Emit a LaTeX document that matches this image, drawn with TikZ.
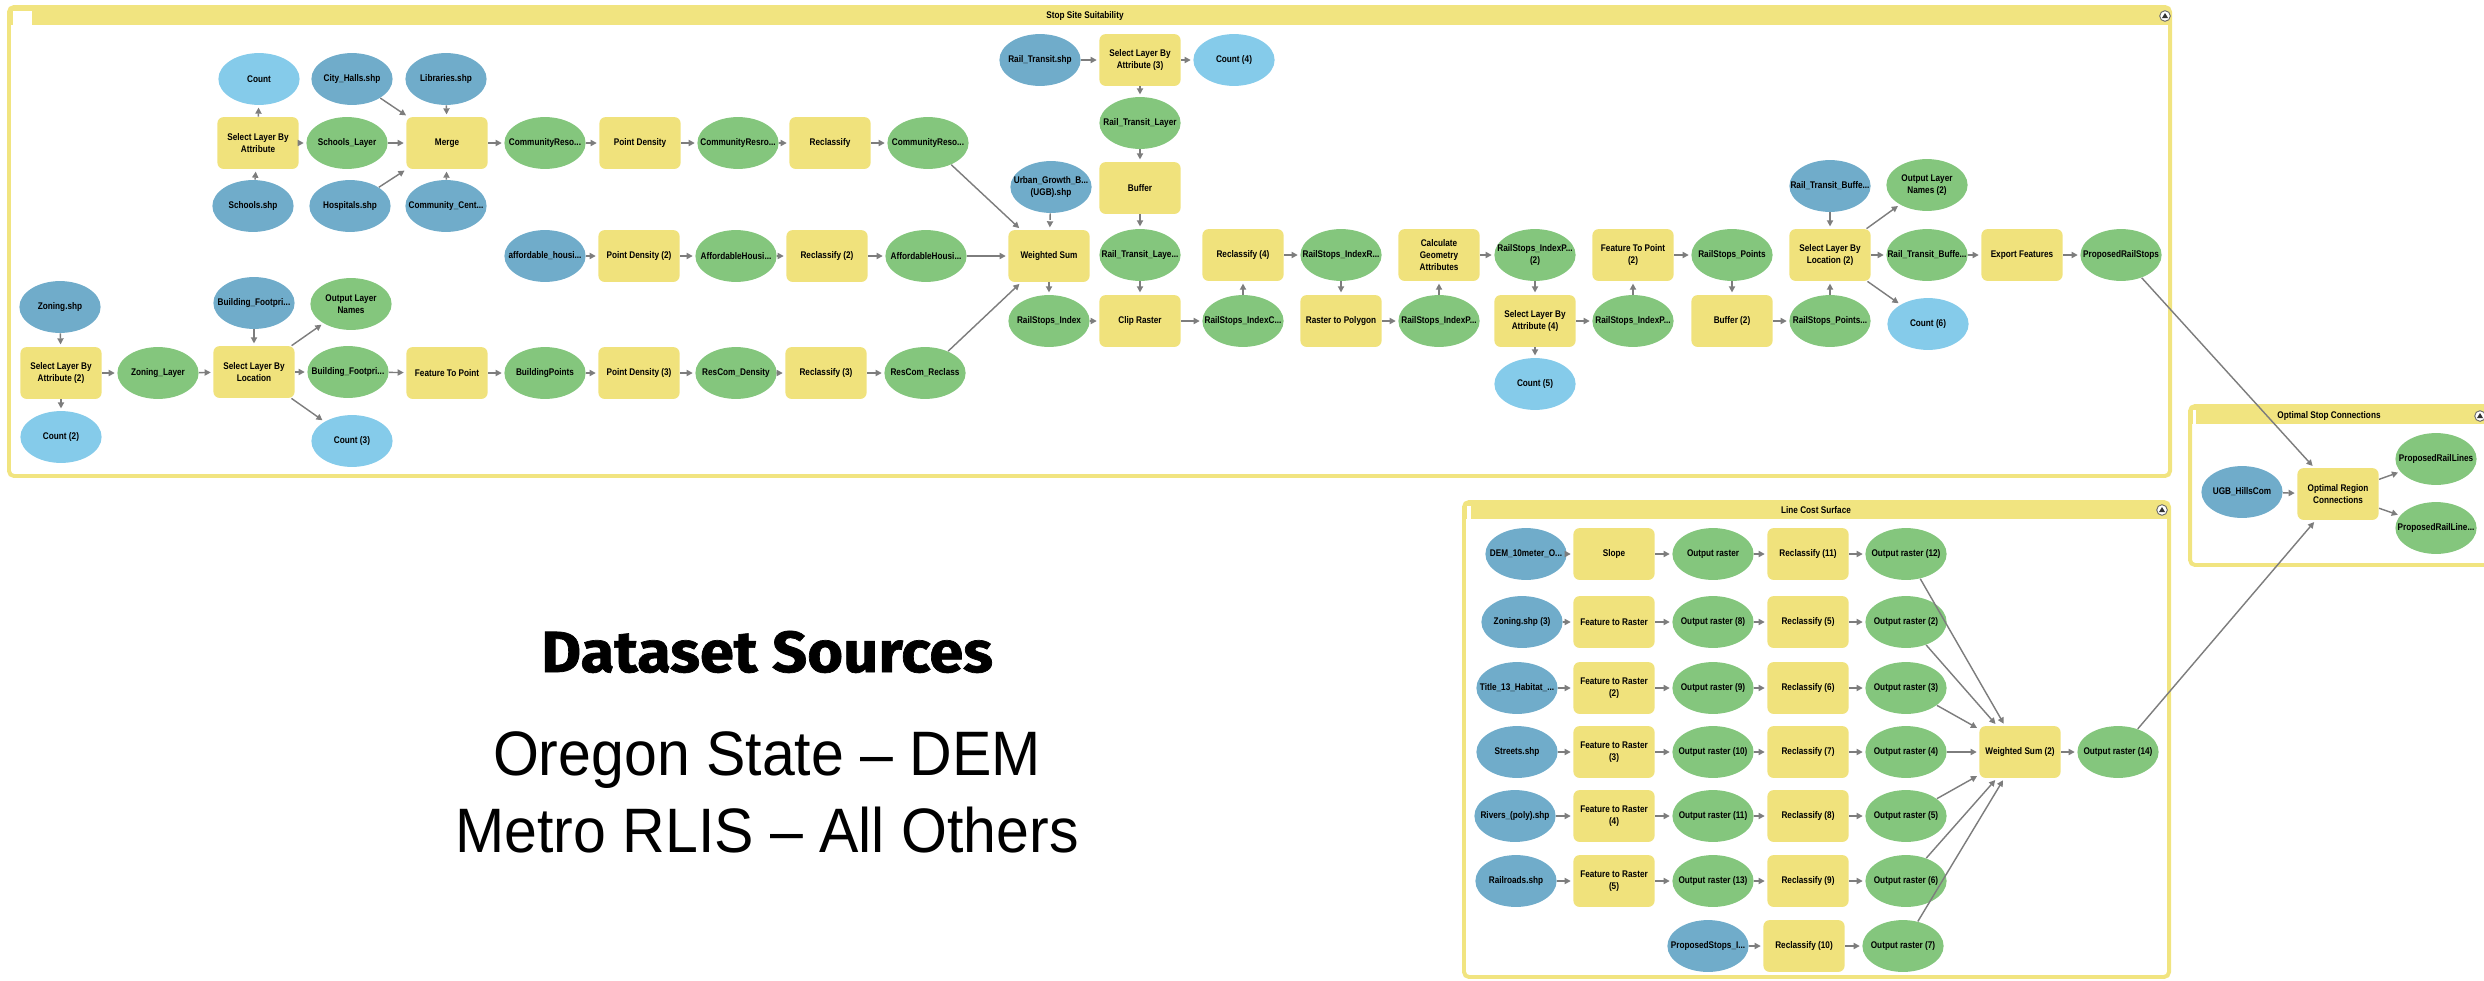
\documentclass[tikz,border=0pt]{standalone}
\usepackage{fontspec}
\setmainfont{Liberation Sans}
\newfontfamily\boxfont{Liberation Sans}[FakeStretch=0.85]
\newfontfamily\headfont{Fira Sans}[FakeStretch=1.06,FakeBold=1.2]
\newfontfamily\srcfont{Liberation Sans}[FakeStretch=0.94]
\usetikzlibrary{shapes.geometric,arrows.meta}

\definecolor{toolyellow}{RGB}{240,226,124}
\definecolor{framey}{RGB}{241,228,128}
\definecolor{datagreen}{RGB}{132,198,125}
\definecolor{inputblue}{RGB}{112,172,202}
\definecolor{countblue}{RGB}{133,203,234}
\definecolor{linkgrey}{RGB}{125,125,125}

\tikzset{
  toolbox/.style={rectangle, rounded corners=0.1cm, fill=toolyellow, minimum width=1.3cm, minimum height=0.83cm, inner sep=0pt, align=center, font=\boxfont\bfseries\fontsize{4.4}{5.4}\selectfont},
  outdata/.style={ellipse, fill=datagreen, minimum width=1.3cm, minimum height=0.83cm, inner xsep=-0.4cm, inner ysep=0pt, align=center, font=\boxfont\bfseries\fontsize{4.4}{5.4}\selectfont},
  indata/.style={outdata, fill=inputblue},
  countdata/.style={outdata, fill=countblue},
  flow/.style={draw=linkgrey, line width=0.65pt, -{Triangle[length=2.8pt,width=2.8pt]}, shorten >=1pt},
  preflow/.style={flow, dashed},
  groupframe/.style={draw=framey, line width=1.8pt, rounded corners=0.08cm},
  grouptitle/.style={inner sep=0pt, font=\boxfont\bfseries\fontsize{4.4}{5.4}\selectfont},
  collapse/.style={circle, draw=black!60, fill=white, line width=0.4pt, minimum size=0.17cm, inner sep=0pt},
  srcline/.style={anchor=base, inner sep=0pt, font=\srcfont\fontsize{28.6}{34}\selectfont},
}

\begin{document}
\begin{tikzpicture}[x=0.016cm, y=-0.016cm]
		\useasboundingbox (0,0) rectangle (2484,980);
		\clip (0,0) rectangle (2484,980);
		
		% Stop Site Suitability group
		\fill[framey] (9,7) rectangle (2170,25);
		\fill[white] (13,11) rectangle (32,25);
		\draw[groupframe] (9,7) rectangle (2170,476);
		\node (sstitle) [grouptitle] at (1085,16) {Stop Site Suitability};
		\node (ssbtn) [collapse] at (2165,16) {};
		\fill[black!80] (2162,18) -- (2168,18) -- (2165,13) -- cycle;
		
		% Line Cost Surface group
		\fill[framey] (1464,502) rectangle (2169,519);
		\fill[white] (1467,506) rectangle (1471,519);
		\draw[groupframe] (1464,502) rectangle (2169,977);
		\node (lctitle) [grouptitle] at (1816,510) {Line Cost Surface};
		\node (lcbtn) [collapse] at (2162,510) {};
		\fill[black!80] (2159,512) -- (2165,512) -- (2162,507) -- cycle;
		
		% Optimal Stop Connections group
		\fill[framey] (2190,406) rectangle (2492,424);
		\fill[white] (2193,410) rectangle (2196,424);
		\draw[groupframe] (2190,406) rectangle (2492,565);
		\node (ostitle) [grouptitle] at (2329,416) {Optimal Stop Connections};
		\node (osbtn) [collapse] at (2480,416) {};
		\fill[black!80] (2477,418) -- (2483,418) -- (2480,413) -- cycle;
		
		% Community resources
		\node (count1) [countdata] at (259,79) {Count};
		\node (cityhalls) [indata] at (352,79) {City\_Halls.shp};
		\node (libraries) [indata] at (446,79) {Libraries.shp};
		\node (selattr) [toolbox] at (258,143) {Select Layer By\\Attribute};
		\node (schoolslyr) [outdata] at (347,143) {Schools\_Layer};
		\node (merge) [toolbox] at (447,143) {Merge};
		\node (commres) [outdata] at (545,143) {CommunityReso...};
		\node (ptdens) [toolbox] at (640,143) {Point Density};
		\node (commdens) [outdata] at (738,143) {CommunityResro...};
		\node (reclass) [toolbox] at (830,143) {Reclassify};
		\node (commrecl) [outdata] at (928,143) {CommunityReso...};
		\node (schools) [indata] at (253,206) {Schools.shp};
		\node (hospitals) [indata] at (350,206) {Hospitals.shp};
		\node (commcent) [indata] at (446,206) {Community\_Cent...};
		
		% Affordable housing
		\node (affhouse) [indata] at (545,256) {affordable\_housi...};
		\node (ptdens2) [toolbox] at (639,256) {Point Density (2)};
		\node (affdens) [outdata] at (736,256) {AffordableHousi...};
		\node (reclass2) [toolbox] at (827,256) {Reclassify (2)};
		\node (affrecl) [outdata] at (926,256) {AffordableHousi...};
		
		% Zoning and buildings
		\node (zoning) [indata] at (60,307) {Zoning.shp};
		\node (selattr2) [toolbox] at (61,373) {Select Layer By\\Attribute (2)};
		\node (count2) [countdata] at (61,437) {Count (2)};
		\node (zoninglyr) [outdata] at (158,373) {Zoning\_Layer};
		\node (bldgshp) [indata] at (254,303) {Building\_Footpri...};
		\node (selloc) [toolbox] at (254,372) {Select Layer By\\Location};
		\node (outnames) [outdata] at (351,304) {Output Layer\\Names};
		\node (bldglyr) [outdata] at (348,372) {Building\_Footpri...};
		\node (count3) [countdata] at (352,441) {Count (3)};
		\node (feat2pt) [toolbox] at (447,373) {Feature To Point};
		\node (bldgpts) [outdata] at (545,373) {BuildingPoints};
		\node (ptdens3) [toolbox] at (639,373) {Point Density (3)};
		\node (rescomdens) [outdata] at (736,373) {ResCom\_Density};
		\node (reclass3) [toolbox] at (826,373) {Reclassify (3)};
		\node (rescomrecl) [outdata] at (925,373) {ResCom\_Reclass};
		
		% Weighted sum and rail transit
		\node (ugb) [indata] at (1051,187) {Urban\_Growth\_B...\\(UGB).shp};
		\node (wsum) [toolbox] at (1049,256) {Weighted Sum};
		\node (railidx) [outdata] at (1049,321) {RailStops\_Index};
		\node (railshp) [indata] at (1040,60) {Rail\_Transit.shp};
		\node (selattr3) [toolbox] at (1140,60) {Select Layer By\\Attribute (3)};
		\node (count4) [countdata] at (1234,60) {Count (4)};
		\node (railtrlyr) [outdata] at (1140,123) {Rail\_Transit\_Layer};
		\node (buffer) [toolbox] at (1140,188) {Buffer};
		\node (railbuf) [outdata] at (1140,255) {Rail\_Transit\_Laye...};
		\node (clip) [toolbox] at (1140,321) {Clip Raster};
		
		% Rail stop index to points
		\node (reclass4) [toolbox] at (1243,255) {Reclassify (4)};
		\node (idxc) [outdata] at (1243,321) {RailStops\_IndexC...};
		\node (idxr) [outdata] at (1341,255) {RailStops\_IndexR...};
		\node (r2poly) [toolbox] at (1341,321) {Raster to Polygon};
		\node (calcgeom) [toolbox] at (1439,255) {Calculate\\Geometry\\Attributes};
		\node (idxp) [outdata] at (1439,321) {RailStops\_IndexP...};
		\node (idxp2) [outdata] at (1535,255) {RailStops\_IndexP...\\(2)};
		\node (selattr4) [toolbox] at (1535,321) {Select Layer By\\Attribute (4)};
		\node (count5) [countdata] at (1535,384) {Count (5)};
		\node (feat2pt2) [toolbox] at (1633,255) {Feature To Point\\(2)};
		\node (idxp3) [outdata] at (1633,321) {RailStops\_IndexP...};
		\node (railpts) [outdata] at (1732,255) {RailStops\_Points};
		\node (buffer2) [toolbox] at (1732,321) {Buffer (2)};
		\node (railbufshp) [indata] at (1830,186) {Rail\_Transit\_Buffe...};
		\node (selloc2) [toolbox] at (1830,255) {Select Layer By\\Location (2)};
		\node (railptsbuf) [outdata] at (1830,321) {RailStops\_Points...};
		\node (outnames2) [outdata] at (1927,185) {Output Layer\\Names (2)};
		\node (railbuflyr) [outdata] at (1927,255) {Rail\_Transit\_Buffe...};
		\node (count6) [countdata] at (1928,324) {Count (6)};
		\node (export) [toolbox] at (2022,255) {Export Features};
		\node (proposed) [outdata] at (2121,255) {ProposedRailStops};
		
		% Cost surface rows
		\node (dem) [indata] at (1526,554) {DEM\_10meter\_O...};
		\node (slope) [toolbox] at (1614,554) {Slope};
		\node (outr) [outdata] at (1713,554) {Output raster};
		\node (reclass11) [toolbox] at (1808,554) {Reclassify (11)};
		\node (outr12) [outdata] at (1906,554) {Output raster (12)};
		
		\node (zoning3) [indata] at (1522,622) {Zoning.shp (3)};
		\node (f2r) [toolbox] at (1614,622) {Feature to Raster};
		\node (outr8) [outdata] at (1713,622) {Output raster (8)};
		\node (reclass5) [toolbox] at (1808,622) {Reclassify (5)};
		\node (outr2) [outdata] at (1906,622) {Output raster (2)};
		
		\node (habitat) [indata] at (1517,688) {Title\_13\_Habitat\_...};
		\node (f2r2) [toolbox] at (1614,688) {Feature to Raster\\(2)};
		\node (outr9) [outdata] at (1713,688) {Output raster (9)};
		\node (reclass6) [toolbox] at (1808,688) {Reclassify (6)};
		\node (outr3) [outdata] at (1906,688) {Output raster (3)};
		
		\node (streets) [indata] at (1517,752) {Streets.shp};
		\node (f2r3) [toolbox] at (1614,752) {Feature to Raster\\(3)};
		\node (outr10) [outdata] at (1713,752) {Output raster (10)};
		\node (reclass7) [toolbox] at (1808,752) {Reclassify (7)};
		\node (outr4) [outdata] at (1906,752) {Output raster (4)};
		
		\node (rivers) [indata] at (1515,816) {Rivers\_(poly).shp};
		\node (f2r4) [toolbox] at (1614,816) {Feature to Raster\\(4)};
		\node (outr11) [outdata] at (1713,816) {Output raster (11)};
		\node (reclass8) [toolbox] at (1808,816) {Reclassify (8)};
		\node (outr5) [outdata] at (1906,816) {Output raster (5)};
		
		\node (railroads) [indata] at (1516,881) {Railroads.shp};
		\node (f2r5) [toolbox] at (1614,881) {Feature to Raster\\(5)};
		\node (outr13) [outdata] at (1713,881) {Output raster (13)};
		\node (reclass9) [toolbox] at (1808,881) {Reclassify (9)};
		\node (outr6) [outdata] at (1906,881) {Output raster (6)};
		
		\node (propstops) [indata] at (1708,946) {ProposedStops\_I...};
		\node (reclass10) [toolbox] at (1804,946) {Reclassify (10)};
		\node (outr7) [outdata] at (1903,946) {Output raster (7)};
		
		\node (wsum2) [toolbox] at (2020,752) {Weighted Sum (2)};
		\node (outr14) [outdata] at (2118,752) {Output raster (14)};
		
		% Optimal connections
		\node (ugbhills) [indata] at (2242,492) {UGB\_HillsCom};
		\node (optconn) [toolbox] at (2338,494) {Optimal Region\\Connections};
		\node (proplines) [outdata] at (2436,459) {ProposedRailLines};
		\node (proplines2) [outdata] at (2436,528) {ProposedRailLine...};
		
		% Dataset sources
		\node (srchead) [anchor=base, inner sep=0pt, font=\headfont\bfseries\fontsize{26.4}{30}\selectfont] at (767,672) {Dataset Sources};
		\node (srcdem) [srcline] at (767,775) {Oregon State – DEM};
		\node (srcrlis) [srcline] at (767,852) {Metro RLIS – All Others};
		
		% Links into Merge
		\draw[flow] (schools) -- (selattr);
		\draw[flow] (selattr) -- (count1);
		\draw[flow] (selattr) -- (schoolslyr);
		\draw[flow] (schoolslyr) -- (merge);
		\draw[flow] (cityhalls) -- (merge);
		\draw[flow] (libraries) -- (merge);
		\draw[flow] (hospitals) -- (merge);
		\draw[flow] (commcent) -- (merge);
		\draw[flow] (merge) -- (commres);
		\draw[flow] (commres) -- (ptdens);
		\draw[flow] (ptdens) -- (commdens);
		\draw[flow] (commdens) -- (reclass);
		\draw[flow] (reclass) -- (commrecl);
		\draw[flow] (commrecl) -- (wsum);
		
		% Links for affordable housing
		\draw[flow] (affhouse) -- (ptdens2);
		\draw[flow] (ptdens2) -- (affdens);
		\draw[flow] (affdens) -- (reclass2);
		\draw[flow] (reclass2) -- (affrecl);
		\draw[flow] (affrecl) -- (wsum);
		
		% Links for zoning and buildings
		\draw[flow] (zoning) -- (selattr2);
		\draw[flow] (selattr2) -- (count2);
		\draw[flow] (selattr2) -- (zoninglyr);
		\draw[flow] (zoninglyr) -- (selloc);
		\draw[flow] (bldgshp) -- (selloc);
		\draw[flow] (selloc) -- (outnames);
		\draw[flow] (selloc) -- (bldglyr);
		\draw[flow] (selloc) -- (count3);
		\draw[flow] (bldglyr) -- (feat2pt);
		\draw[flow] (feat2pt) -- (bldgpts);
		\draw[flow] (bldgpts) -- (ptdens3);
		\draw[flow] (ptdens3) -- (rescomdens);
		\draw[flow] (rescomdens) -- (reclass3);
		\draw[flow] (reclass3) -- (rescomrecl);
		\draw[flow] (rescomrecl) -- (wsum);
		
		% Links for rail transit
		\draw[preflow] (ugb) -- (wsum);
		\draw[flow] (wsum) -- (railidx);
		\draw[flow] (railshp) -- (selattr3);
		\draw[flow] (selattr3) -- (count4);
		\draw[flow] (selattr3) -- (railtrlyr);
		\draw[flow] (railtrlyr) -- (buffer);
		\draw[flow] (buffer) -- (railbuf);
		\draw[flow] (railbuf) -- (clip);
		\draw[flow] (railidx) -- (clip);
		\draw[flow] (clip) -- (idxc);
		\draw[flow] (idxc) -- (reclass4);
		\draw[flow] (reclass4) -- (idxr);
		\draw[flow] (idxr) -- (r2poly);
		\draw[flow] (r2poly) -- (idxp);
		\draw[flow] (idxp) -- (calcgeom);
		\draw[flow] (calcgeom) -- (idxp2);
		\draw[flow] (idxp2) -- (selattr4);
		\draw[flow] (selattr4) -- (count5);
		\draw[flow] (selattr4) -- (idxp3);
		\draw[flow] (idxp3) -- (feat2pt2);
		\draw[flow] (feat2pt2) -- (railpts);
		\draw[flow] (railpts) -- (buffer2);
		\draw[flow] (buffer2) -- (railptsbuf);
		\draw[flow] (railptsbuf) -- (selloc2);
		\draw[flow] (railbufshp) -- (selloc2);
		\draw[flow] (selloc2) -- (outnames2);
		\draw[flow] (selloc2) -- (railbuflyr);
		\draw[flow] (selloc2) -- (count6);
		\draw[flow] (railbuflyr) -- (export);
		\draw[flow] (export) -- (proposed);
		
		% Links for cost surface rows
		\draw[flow] (dem) -- (slope);
		\draw[flow] (slope) -- (outr);
		\draw[flow] (outr) -- (reclass11);
		\draw[flow] (reclass11) -- (outr12);
		\draw[flow] (zoning3) -- (f2r);
		\draw[flow] (f2r) -- (outr8);
		\draw[flow] (outr8) -- (reclass5);
		\draw[flow] (reclass5) -- (outr2);
		\draw[flow] (habitat) -- (f2r2);
		\draw[flow] (f2r2) -- (outr9);
		\draw[flow] (outr9) -- (reclass6);
		\draw[flow] (reclass6) -- (outr3);
		\draw[flow] (streets) -- (f2r3);
		\draw[flow] (f2r3) -- (outr10);
		\draw[flow] (outr10) -- (reclass7);
		\draw[flow] (reclass7) -- (outr4);
		\draw[flow] (rivers) -- (f2r4);
		\draw[flow] (f2r4) -- (outr11);
		\draw[flow] (outr11) -- (reclass8);
		\draw[flow] (reclass8) -- (outr5);
		\draw[flow] (railroads) -- (f2r5);
		\draw[flow] (f2r5) -- (outr13);
		\draw[flow] (outr13) -- (reclass9);
		\draw[flow] (reclass9) -- (outr6);
		\draw[flow] (propstops) -- (reclass10);
		\draw[flow] (reclass10) -- (outr7);
		
		% Links into Weighted Sum (2)
		\draw[flow] (outr12) -- (wsum2);
		\draw[flow] (outr2) -- (wsum2);
		\draw[flow] (outr3) -- (wsum2);
		\draw[flow] (outr4) -- (wsum2);
		\draw[flow] (outr5) -- (wsum2);
		\draw[flow] (outr6) -- (wsum2);
		\draw[flow] (outr7) -- (wsum2);
		\draw[flow] (wsum2) -- (outr14);
		
		% Links into Optimal Region Connections
		\draw[flow] (proposed) -- (optconn);
		\draw[flow] (outr14) -- (optconn);
		\draw[preflow] (ugbhills) -- (optconn);
		\draw[flow] (optconn) -- (proplines);
		\draw[flow] (optconn) -- (proplines2);
	\end{tikzpicture}
\end{document}
